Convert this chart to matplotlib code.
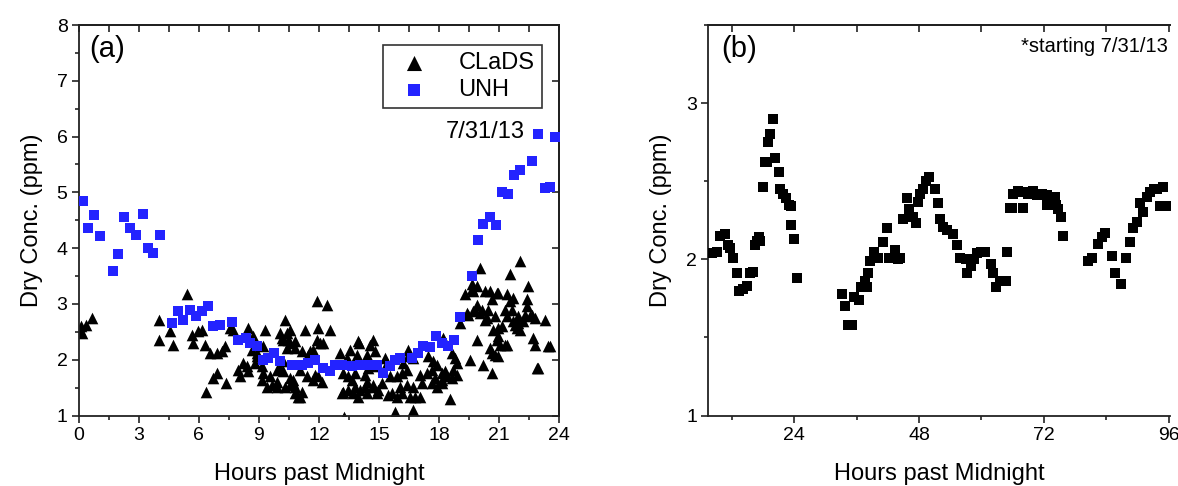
import numpy as np
import matplotlib.pyplot as plt
from matplotlib.ticker import MultipleLocator

plt.rcParams['font.family'] = ['Liberation Sans', 'DejaVu Sans']

# ---- panel (a): 7/31/13, CLaDS vs UNH ----
unh_hours = [0.2, 0.45, 0.76, 1.06, 1.70, 1.95, 2.26, 2.56, 2.85, 3.20, 3.44, 3.72, 4.06,
             4.64, 4.97, 5.22, 5.56, 5.86, 6.16, 6.47, 6.72, 7.05, 7.67, 7.97, 8.35, 8.55,
             8.89, 9.22, 9.47, 9.75, 10.05, 10.63, 10.96, 11.13, 11.46, 11.80, 12.21, 12.55,
             12.80, 13.13, 13.63, 14.04, 14.46, 14.88, 15.21, 15.54, 15.79, 16.04, 16.63,
             16.95, 17.20, 17.54, 17.84, 18.12, 18.45, 18.74, 19.04, 19.62, 19.95, 20.20,
             20.53, 20.83, 21.12, 21.45, 21.73, 22.03, 22.62, 22.95, 23.28, 23.53, 23.78]
unh_conc = [4.85, 4.37, 4.59, 4.21, 3.59, 3.89, 4.55, 4.37, 4.23, 4.61, 4.01, 3.92, 4.23,
            2.66, 2.87, 2.72, 2.90, 2.79, 2.87, 2.97, 2.61, 2.63, 2.67, 2.36, 2.39, 2.30,
            2.24, 2.00, 2.03, 2.12, 1.97, 1.91, 1.91, 1.91, 1.94, 1.99, 1.85, 1.79,
            1.91, 1.91, 1.88, 1.91, 1.91, 1.91, 1.77, 1.88, 1.99, 2.03, 2.03,
            2.12, 2.24, 2.23, 2.43, 2.30, 2.25, 2.36, 2.77, 3.50, 4.15, 4.43,
            4.55, 4.41, 5.00, 4.97, 5.32, 5.41, 5.57, 6.05, 5.08, 5.09, 5.99]

clads_hours = [0.07, 0.15, 0.37, 0.65, 0.10,
               4.02, 4.02, 4.56, 4.72, 5.39, 5.64, 5.97, 6.14, 5.72, 6.31,
               6.56, 6.89, 7.14, 7.30, 6.89, 6.72, 6.36, 7.35,
               7.55, 7.72, 7.97, 8.22, 8.39, 8.05, 8.47,
               8.47, 8.72, 8.80, 8.89, 9.30, 9.22,
               9.22, 9.55, 9.39, 9.89, 9.89, 9.64,
               10.30, 10.05, 10.38, 10.55, 10.22, 10.55, 10.38, 10.80,
               10.30, 10.55, 10.80, 10.96, 10.05, 10.22,
               8.64, 8.89, 9.14, 9.14, 10.14,
               9.89, 10.22, 10.55, 10.72, 11.13,
               11.30, 11.88, 12.38, 11.96, 12.55,
               11.88, 12.21, 11.13, 11.55, 11.38, 11.80,
               13.04, 13.54, 13.96, 14.71, 13.88, 14.38, 14.79,
               13.21, 13.63, 13.46, 13.21, 13.71, 14.04,
               14.38, 14.71, 14.96, 15.29, 15.13,
               15.63, 15.88, 16.04, 15.79,
               10.47, 10.80, 12.05, 11.71, 11.46,
               11.05, 11.05, 10.80, 10.72, 11.96, 12.13, 11.71,
               13.38, 13.13, 13.46, 13.80, 13.96, 14.01, 14.54,
               13.80, 14.29, 14.46, 14.71, 14.29, 14.71, 14.38,
               14.88, 15.38, 15.54, 15.88, 15.46, 16.13,
               16.21, 16.38, 16.13, 16.46, 16.71, 16.46,
               16.38, 16.71, 16.54, 16.79, 17.04, 16.71,
               17.04, 17.38, 17.13, 17.46, 17.71, 17.88,
               17.63, 17.80, 18.13, 17.63, 17.88, 18.13, 18.37, 18.62,
               18.20, 18.62, 18.79, 18.87, 18.54, 18.87, 18.71, 13.26,
               19.04, 19.29, 19.62, 19.70, 19.87, 20.04,
               19.45, 19.70, 20.04, 19.87, 19.54, 20.20, 20.62,
               20.28, 20.45, 20.54, 20.87, 20.62, 20.79,
               20.70, 20.95, 20.87, 20.54, 20.79, 21.04, 21.37,
               21.53, 21.53, 21.62, 21.37, 21.70, 21.87, 22.03,
               22.03, 22.45, 22.37, 22.37, 22.53, 22.62, 22.78,
               21.95, 22.20, 22.70, 22.78, 22.87, 23.28, 23.53,
               19.62, 19.87, 20.28, 20.95, 21.37, 21.70,
               19.37, 19.79, 20.12, 20.37, 21.28, 21.95, 22.28,
               21.78, 21.12, 20.95, 21.28, 20.62, 20.95,
               23.45, 22.95, 18.12, 18.29]
clads_conc = [2.54, 2.48, 2.63, 2.75, 2.60,
              2.72, 2.36, 2.51, 2.27, 3.18, 2.45, 2.51, 2.54, 2.30, 2.27,
              2.12, 2.12, 2.15, 2.24, 1.76, 1.67, 1.43, 1.58,
              2.57, 2.54, 1.82, 1.94, 1.88, 1.70, 1.79,
              2.57, 2.42, 1.94, 2.12, 2.54, 2.24,
              1.76, 1.70, 1.52, 1.61, 1.52, 1.55,
              2.72, 2.48, 2.48, 2.54, 2.36, 2.30, 2.21, 2.21,
              1.52, 1.55, 1.52, 1.34, 1.85, 1.97,
              2.18, 2.06, 1.88, 1.64, 2.39,
              1.82, 1.79, 1.67, 1.64, 1.43,
              2.54, 3.05, 2.99, 2.57, 2.54,
              2.36, 2.30, 2.15, 2.15, 1.70, 1.73,
              2.12, 2.18, 2.33, 2.36, 2.09, 2.09, 2.15,
              1.76, 1.64, 1.70, 1.43, 1.40, 1.46,
              1.61, 1.55, 1.46, 2.03, 1.58,
              1.40, 1.34, 1.52, 1.07,
              2.36, 2.33, 2.30, 2.18, 2.09,
              1.82, 1.34, 1.40, 1.58, 1.70, 1.61, 1.64,
              2.03, 1.40, 1.46, 1.52, 1.34, 2.30, 2.27,
              1.76, 1.73, 1.85, 1.88, 1.52, 1.52, 1.40,
              1.40, 1.94, 1.70, 1.70, 1.37, 1.40,
              1.94, 1.82, 1.76, 2.18, 2.03, 2.06,
              1.55, 1.52, 1.34, 1.34, 1.34, 1.10,
              1.73, 1.76, 1.58, 2.06, 1.97, 1.91,
              1.82, 1.67, 1.76, 1.58, 1.52, 1.58, 1.70, 1.67,
              2.39, 2.12, 2.03, 1.94, 1.29, 1.73, 1.82, 0.97,
              2.66, 3.17, 3.35, 3.23, 2.99, 3.65,
              2.81, 2.87, 2.84, 2.36, 2.00, 1.91, 1.76,
              2.72, 2.90, 3.23, 3.20, 3.08, 2.78,
              2.54, 2.57, 2.36, 2.21, 2.09, 2.27, 2.27,
              3.53, 3.05, 2.90, 2.78, 2.69, 2.57, 2.54,
              3.77, 3.32, 3.08, 2.96, 2.78, 2.81, 2.75,
              2.66, 2.69, 2.39, 2.27, 1.85, 2.71, 2.24,
              3.26, 3.32, 3.23, 3.20, 3.17, 3.11,
              2.84, 2.90, 2.90, 2.75, 2.90, 2.78, 2.81,
              2.63, 2.60, 2.42, 2.27, 2.12, 2.06,
              2.24, 1.85, 1.64, 1.79]

# ---- panel (b): multi-day record starting 7/31/13 ----
multi_hours = [8.17, 9.13, 9.77, 10.73, 11.37, 11.69, 12.33, 13.10, 13.49, 14.25, 15.02,
               15.54, 16.06, 16.50, 16.94, 17.33, 17.46, 17.98, 18.42, 18.75, 19.06, 19.38,
               20.02, 20.35, 21.12, 21.30, 21.83, 22.46, 23.10, 23.37, 23.37, 24.06, 24.51,
               33.17, 33.81, 34.45, 35.10, 35.54, 36.56, 36.88, 37.98, 37.65, 38.29, 38.62,
               39.45, 40.21, 41.06, 41.83, 42.33, 43.42, 44.38, 44.06, 44.90, 45.67, 46.17,
               46.94, 47.46, 47.90, 48.23, 48.75, 49.38, 50.02, 51.12, 51.63, 52.08, 52.71,
               53.37, 54.52, 55.29, 55.92, 57.08, 57.33, 57.98, 58.62, 59.25, 59.90, 60.73,
               61.83, 62.33, 62.85, 63.62, 64.77, 64.90,
               65.54, 65.87, 66.06, 67.14, 67.98, 68.10, 69.06, 70.02, 70.67, 71.63, 72.60,
               73.23, 74.19, 74.38, 74.83, 75.29, 75.79, 72.60,
               80.60, 81.25, 82.52, 83.17, 83.81, 85.21, 85.65, 86.83, 87.85, 88.62, 89.25,
               90.02, 90.54, 91.17, 91.83, 92.46, 93.23, 93.87, 95.02, 94.38, 95.67]
multi_conc = [2.04, 2.05, 2.15, 2.16, 2.09, 2.07, 2.01, 1.91, 1.80, 1.81, 1.83,
              1.91, 1.92, 2.09, 2.12, 2.14, 2.12, 2.46, 2.62, 2.62, 2.75, 2.80,
              2.90, 2.65, 2.56, 2.45, 2.42, 2.39, 2.35, 2.34, 2.22, 2.13, 1.88,
              1.78, 1.70, 1.58, 1.58, 1.76, 1.74, 1.82, 1.82, 1.86, 1.91, 1.99,
              2.05, 2.01, 2.11, 2.20, 2.01, 2.06, 2.01, 2.00, 2.26, 2.39, 2.32,
              2.27, 2.23, 2.37, 2.42, 2.45, 2.50, 2.53, 2.45, 2.36, 2.26, 2.21,
              2.19, 2.16, 2.09, 2.01, 2.00, 1.91, 1.96, 2.00, 2.04, 2.05, 2.05,
              1.97, 1.91, 1.82, 1.86, 1.86, 2.05,
              2.33, 2.33, 2.42, 2.44, 2.43, 2.33, 2.42, 2.44, 2.41, 2.42, 2.41,
              2.40, 2.40, 2.35, 2.32, 2.27, 2.15, 2.35,
              1.99, 2.01, 2.10, 2.14, 2.17, 2.02, 1.91, 1.84, 2.01, 2.11, 2.20,
              2.24, 2.36, 2.30, 2.40, 2.43, 2.45, 2.45, 2.46, 2.34, 2.34]

blue = '#2323ff'

fig = plt.figure(figsize=(11.78, 4.86), dpi=100)
ax1 = fig.add_axes([0.0668, 0.145, 0.408, 0.8035])
ax2 = fig.add_axes([0.6013, 0.145, 0.392, 0.8035])


def style_axis(ax, top_ticks, right_ticks):
    for s in ax.spines.values():
        s.set_linewidth(1.3)
        s.set_color('#222222')
    ax.tick_params(which='both', direction='out', labelsize=14, width=1.2,
                   color='#222222', pad=3)
    ax.tick_params(which='major', length=5)
    ax.tick_params(which='minor', length=3)
    # mirrored inward ticks like the original plotting program
    sec = ax.secondary_xaxis('top')
    sec.set_xticks(top_ticks)
    sec.tick_params(direction='in', length=5, width=1.2, labeltop=False, color='#222222')
    sec.spines['top'].set_linewidth(1.3)
    if right_ticks is not None:
        secy = ax.secondary_yaxis('right')
        secy.set_yticks(right_ticks)
        secy.tick_params(direction='in', length=5, width=1.2, labelright=False,
                         color='#222222')
        secy.spines['right'].set_linewidth(1.3)


# panel (a)
ax1.scatter(clads_hours, clads_conc, marker='^', s=70, color='black',
            linewidths=0, label='CLaDS', zorder=2)
ax1.scatter(unh_hours, unh_conc, marker='s', s=48, color=blue,
            linewidths=0, label='UNH', zorder=3)
ax1.set_xlim(0, 24)
ax1.set_ylim(1, 8)
ax1.xaxis.set_major_locator(MultipleLocator(3))
ax1.xaxis.set_minor_locator(MultipleLocator(1.5))
ax1.yaxis.set_major_locator(MultipleLocator(1))
ax1.yaxis.set_minor_locator(MultipleLocator(0.5))
style_axis(ax1, np.arange(0, 24.1, 1.5), np.arange(1, 8.1, 1))
ax1.set_xlabel('Hours past Midnight', fontsize=17, labelpad=14)
ax1.set_ylabel('Dry Conc. (ppm)', fontsize=17, labelpad=10)
ax1.text(0.022, 0.975, '(a)', transform=ax1.transAxes, fontsize=21,
         ha='left', va='top')
ax1.text(0.845, 0.726, '7/31/13', transform=ax1.transAxes, fontsize=17,
         ha='center', va='center')
leg = ax1.legend(loc='upper right', bbox_to_anchor=(0.963, 0.948), fontsize=17,
                 frameon=True, fancybox=False, edgecolor='black',
                 borderpad=0.3, handletextpad=0.9, labelspacing=0.2,
                 markerscale=1.3, handlelength=2.0, borderaxespad=0)
leg.get_frame().set_linewidth(1.2)

# panel (b)
ax2.scatter(multi_hours, multi_conc, marker='s', s=42, color='black',
            linewidths=0, zorder=3)
ax2.set_xlim(7.5, 96.3)
ax2.set_ylim(1, 3.5)
ax2.xaxis.set_major_locator(MultipleLocator(24))
ax2.xaxis.set_minor_locator(MultipleLocator(12))
ax2.yaxis.set_major_locator(MultipleLocator(1))
ax2.yaxis.set_minor_locator(MultipleLocator(0.5))
ax2.spines['right'].set_visible(False)
style_axis(ax2, np.arange(12, 96.1, 12), None)
ax2.set_xlabel('Hours past Midnight', fontsize=17, labelpad=14)
ax2.set_ylabel('Dry Conc. (ppm)', fontsize=17, labelpad=10)
ax2.text(0.028, 0.975, '(b)', transform=ax2.transAxes, fontsize=21,
         ha='left', va='top')
ax2.text(0.995, 0.97, '*starting 7/31/13', transform=ax2.transAxes, fontsize=14.5,
         ha='right', va='top')

fig.savefig('out.png', dpi=100)
